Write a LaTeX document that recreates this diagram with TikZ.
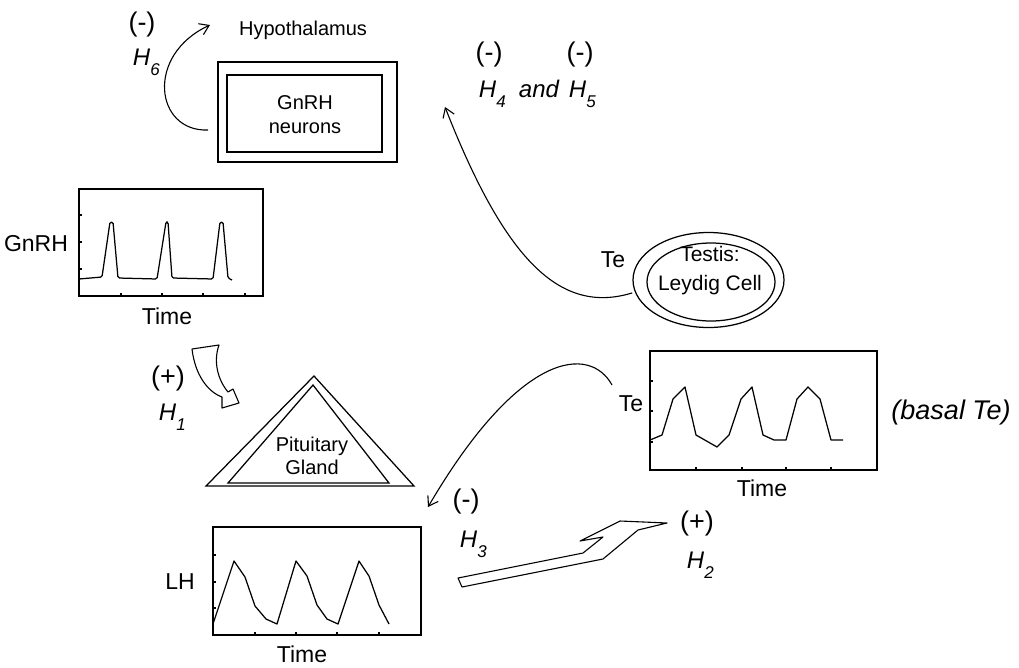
\documentclass[tikz,border=0pt]{standalone}
\usepackage{fontspec}
\setmainfont{Liberation Sans}
\usetikzlibrary{shapes.geometric,arrows.meta}
\newcommand{\hsub}[1]{H\raisebox{-0.42em}{\fontsize{17}{17}\selectfont #1}}

\begin{document}
\begin{tikzpicture}[x=1pt, y=-1pt, line width=1.25pt,
  plotframe/.style={draw, inner sep=0pt},
  boxlabel/.style={font=\fontsize{20}{24}\selectfont, align=center},
  axislabel/.style={font=\fontsize{23}{26}\selectfont},
  sign/.style={font=\fontsize{27}{30}\selectfont},
  hlabel/.style={font=\fontsize{24}{27}\selectfont\itshape, anchor=base west},
  fbarrow/.style={-{Straight Barb[length=9pt,width=12pt]}, line width=1.1pt},
  trace/.style={line width=1.25pt, line join=round}]
\useasboundingbox (0,0) rectangle (1019,667);

% hypothalamus
\node[font=\fontsize{20}{22}\selectfont, anchor=base] (hypolabel) at (303,35) {Hypothalamus};
\node[plotframe, minimum width=179, minimum height=100] (hypo) at (307.5,112) {};
\node[plotframe, minimum width=155, minimum height=77] (neurons) at (304.5,113.5) {};
\node[boxlabel] (neuronslabel) at (305,115) {GnRH\\neurons};

% H6 feedback
\node[sign] (h6sign) at (142,25) {(-)};
\node[hlabel] (h6) at (129,65) {\hsub{6}};
\coordinate (h6start) at (208,130);
\coordinate (h6end) at (210,25);
\draw[fbarrow] (h6start) .. controls (155,132) and (145,55) .. (h6end);

% GnRH pulses
\node[plotframe, minimum width=184, minimum height=107] (gnrhplot) at (171,242.5) {};
\foreach \y in {215,242,269} \draw (79,\y) -- (82,\y);
\foreach \x in {121,162,203,245} \draw (\x,296) -- (\x,293);
\draw[trace, rounded corners=1.5pt] (79,279) -- (102,277) -- (110,222) -- (113,222) -- (118,278)
  -- (157,279) -- (166,222) -- (168,222) -- (172,278) -- (213,279) -- (220,222) -- (223,222)
  -- (228,278) -- (232,280);
\node[axislabel] (gnrhaxis) at (36,244) {GnRH};
\node[axislabel] (gnrhtime) at (167,316) {Time};

% H1 block arrow
\draw[line width=1.1pt, line join=round] (192,349) .. controls (195,375) and (208,392) .. (222,397)
  -- (222,408) -- (239,403) -- (233,389) -- (228,392) .. controls (218,380) and (213,362) .. (219,345) -- cycle;
\node[sign] (h1sign) at (168,379) {(+)};
\node[hlabel] (h1) at (155,420) {\hsub{1}};

% pituitary
\draw (314,376) -- (206,486) -- (414,486) -- cycle;
\draw (313,385) -- (228,483) -- (389,483) -- cycle;
\node[boxlabel, font=\fontsize{20}{23}\selectfont] (pit) at (312,456) {Pituitary\\Gland};

% LH pulses
\node[plotframe, minimum width=208, minimum height=108] (lhplot) at (317,581) {};
\foreach \y in {555,582,608} \draw (213,\y) -- (216,\y);
\foreach \x in {255,296,337,379} \draw (\x,635) -- (\x,632);
\draw[trace] (213,624) -- (234,561) -- (245,577) -- (255,606) -- (266,619) -- (277,624)
  -- (296,561) -- (307,576) -- (317,605) -- (327,619) -- (338,624) -- (359,561) -- (369,576)
  -- (379,605) -- (389,624);
\node[axislabel] (lhaxis) at (180,582) {LH};
\node[axislabel] (lhtime) at (302,654) {Time};

% Te pulses
\node[plotframe, minimum width=227, minimum height=119] (teplot) at (763.5,410.5) {};
\foreach \y in {381,411,442} \draw (650,\y) -- (653,\y);
\foreach \x in {696,742,786,831} \draw (\x,470) -- (\x,467);
\draw[trace] (650,440) -- (662,435) -- (673,399) -- (685,387) -- (696,435) -- (717,447)
  -- (729,435) -- (741,399) -- (752,387) -- (763,435) -- (774,440) -- (786,440) -- (797,399)
  -- (808,387) -- (820,399) -- (831,440) -- (843,440);
\node[axislabel] (teaxis) at (631,404) {Te};
\node[axislabel] (tetime) at (762,488) {Time};
\node[sign, font=\fontsize{27}{30}\selectfont\itshape] (basal) at (951,413) {(basal Te)};

% H3 feedback
\coordinate (h3start) at (612,385);
\coordinate (h3end) at (428,507);
\draw[fbarrow] (h3start) .. controls (590,345) and (520,350) .. (h3end);
\node[sign] (h3sign) at (466,502) {(-)};
\node[hlabel] (h3) at (456,547) {\hsub{3}};

% H2 block arrow
\draw[line width=1.1pt, line join=round] (458,578) -- (583,553) -- (603,537) -- (580,541) -- (620,521)
  -- (667,523) -- (638,530) -- (603,559) -- (462,587) -- cycle;
\node[sign] (h2sign) at (697,524) {(+)};
\node[hlabel] (h2) at (683,568) {\hsub{2}};

% testis
\node[draw, ellipse, minimum width=151, minimum height=95] (testis) at (708.5,280) {};
\node[draw, ellipse, minimum width=128, minimum height=78] (leydig) at (711,282) {};
\node[boxlabel, font=\fontsize{21}{29}\selectfont] (leydiglabel) at (710,271) {Testis:\\Leydig Cell};
\node[axislabel] (testislabel) at (613,260) {Te};

% H4 and H5 feedback
\coordinate (h4end) at (445,107);
\draw[fbarrow] ([xshift=-3pt]testis.190) .. controls (560,315) and (505,260) .. (h4end);
\node[sign] (h4sign) at (489,55) {(-)};
\node[sign] (h5sign) at (580,55) {(-)};
\node[hlabel] (h4) at (475,97) {\hsub{4}};
\node[hlabel] (andlabel) at (515,97) {and};
\node[hlabel] (h5) at (565,97) {\hsub{5}};
\end{tikzpicture}
\end{document}
